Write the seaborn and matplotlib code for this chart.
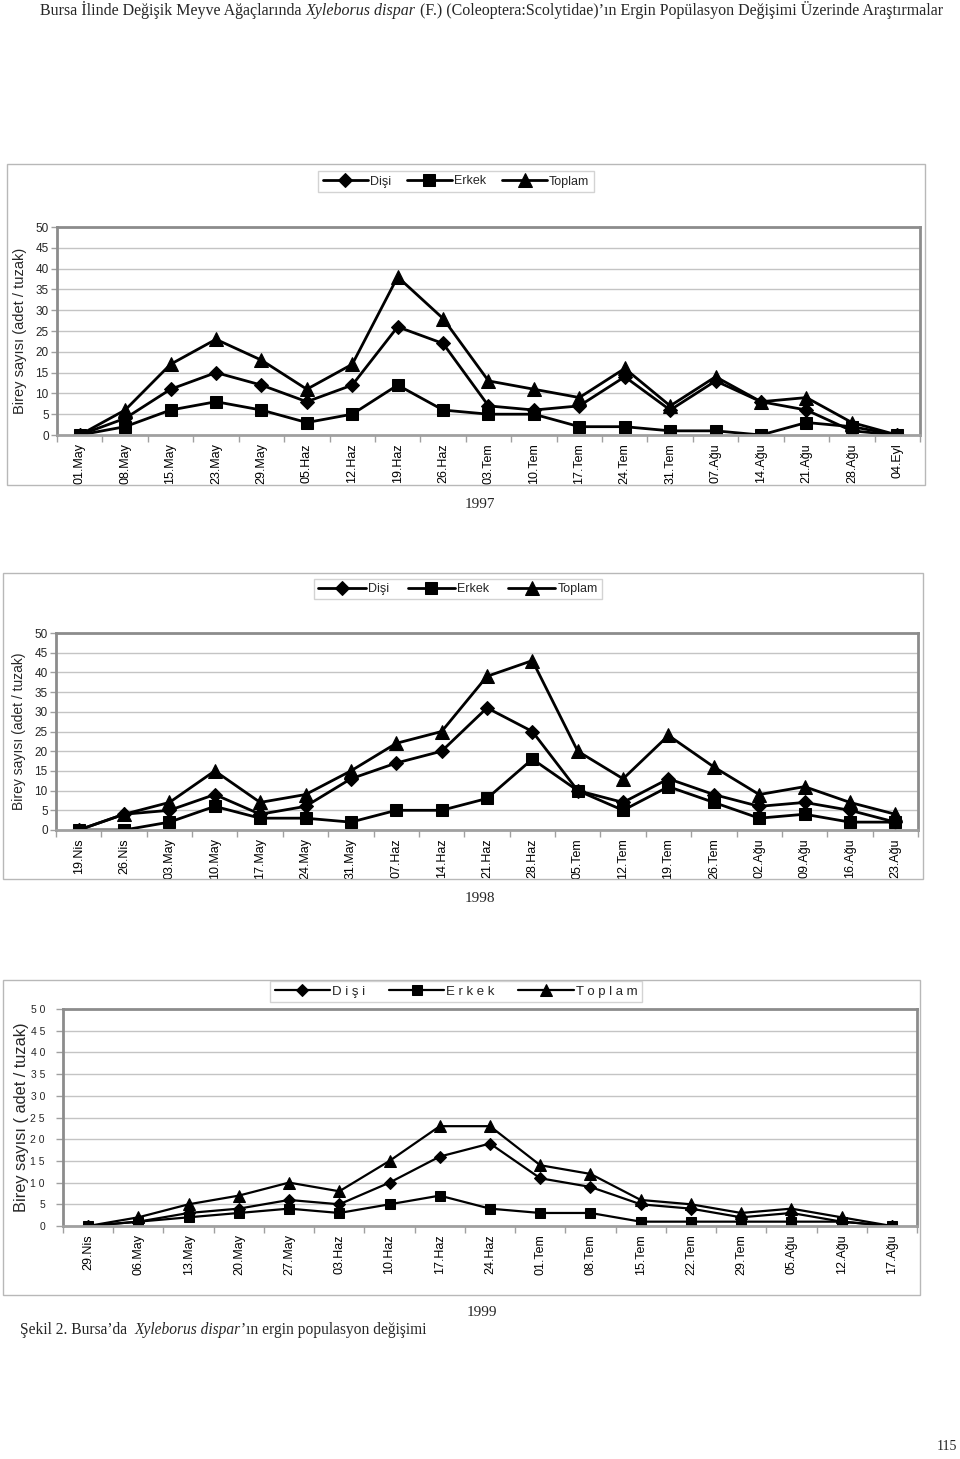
import matplotlib
matplotlib.use("Agg")
import matplotlib.pyplot as plt
from matplotlib.patches import Rectangle
import seaborn as sns
import pandas as pd

sns.set_theme(style="white")
plt.rcParams['font.family'] = ['Liberation Sans', 'DejaVu Sans']

W, H = 960, 1459

# 1997
dates_97 = ['01.May', '08.May', '15.May', '23.May', '29.May', '05.Haz', '12.Haz', '19.Haz', '26.Haz',
            '03.Tem', '10.Tem', '17.Tem', '24.Tem', '31.Tem', '07.Ağu', '14.Ağu', '21.Ağu', '28.Ağu', '04.Eyl']
disi_97 = [0, 4, 11, 15, 12, 8, 12, 26, 22, 7, 6, 7, 14, 6, 13, 8, 6, 1, 0]
erkek_97 = [0, 2, 6, 8, 6, 3, 5, 12, 6, 5, 5, 2, 2, 1, 1, 0, 3, 2, 0]
toplam_97 = [0, 6, 17, 23, 18, 11, 17, 38, 28, 13, 11, 9, 16, 7, 14, 8, 9, 3, 0]

# 1998
dates_98 = ['19.Nis', '26.Nis', '03.May', '10.May', '17.May', '24.May', '31.May', '07.Haz', '14.Haz',
            '21.Haz', '28.Haz', '05.Tem', '12.Tem', '19.Tem', '26.Tem', '02.Ağu', '09.Ağu', '16.Ağu', '23.Ağu']
disi_98 = [0, 4, 5, 9, 4, 6, 13, 17, 20, 31, 25, 10, 7, 13, 9, 6, 7, 5, 2]
erkek_98 = [0, 0, 2, 6, 3, 3, 2, 5, 5, 8, 18, 10, 5, 11, 7, 3, 4, 2, 2]
toplam_98 = [0, 4, 7, 15, 7, 9, 15, 22, 25, 39, 43, 20, 13, 24, 16, 9, 11, 7, 4]

# 1999
dates_99 = ['29.Nis', '06.May', '13.May', '20.May', '27.May', '03.Haz', '10.Haz', '17.Haz', '24.Haz',
            '01.Tem', '08.Tem', '15.Tem', '22.Tem', '29.Tem', '05.Ağu', '12.Ağu', '17.Ağu']
disi_99 = [0, 1, 3, 4, 6, 5, 10, 16, 19, 11, 9, 5, 4, 2, 3, 1, 0]
erkek_99 = [0, 1, 2, 3, 4, 3, 5, 7, 4, 3, 3, 1, 1, 1, 1, 1, 0]
toplam_99 = [0, 2, 5, 7, 10, 8, 15, 23, 23, 14, 12, 6, 5, 3, 4, 2, 0]

y_ticks = [0, 5, 10, 15, 20, 25, 30, 35, 40, 45, 50]

fig = plt.figure(figsize=(W / 100, H / 100), dpi=100)


def px_axes(l, t, r, b):
    return fig.add_axes([l / W, 1 - b / H, (r - l) / W, (b - t) / H])


def px_box(l, t, r, b):
    fig.patches.append(Rectangle((l / W, 1 - b / H), (r - l) / W, (b - t) / H, transform=fig.transFigure,
                                 fill=False, edgecolor='#b8b8b8', lw=1.0))


def draw_chart(dates, disi, erkek, toplam, plot_px, box_px, leg_xy, leg_opts, year, year_xy, labels,
               ylabel, ylab_x, ylab_size, ytick_labels, ytick_opts, lw, ms):
    px_box(*box_px)
    ax = px_axes(*plot_px)
    idx = list(range(len(dates)))
    df = pd.DataFrame({'idx': idx, 'Dişi': disi, 'Erkek': erkek, 'Toplam': toplam})
    for col, mk, s in [('Dişi', 'D', ms[0]), ('Erkek', 's', ms[1]), ('Toplam', '^', ms[2])]:
        sns.lineplot(data=df, x='idx', y=col, marker=mk, markersize=s, color='black', lw=lw,
                     markeredgecolor='black', label=col, legend=False, ax=ax)
    ax.set_xlim(-0.5, len(dates) - 0.5)
    ax.set_ylim(0, 50)
    ax.set_yticks(y_ticks, labels=ytick_labels)
    ax.set_xticks(idx, labels=dates, rotation=90)
    ax.set_xticks([i - 0.5 for i in range(len(dates) + 1)], minor=True)
    ax.tick_params(axis='x', which='major', length=0, labelsize=9, pad=6, colors='black')
    ax.tick_params(axis='x', which='minor', length=5, width=1, color='#a0a0a0', bottom=True)
    ax.tick_params(axis='y', length=ytick_opts[1], width=1, color='#a0a0a0', labelsize=ytick_opts[0],
                   pad=ytick_opts[2], left=True)
    ax.grid(axis='y', color='#c4c4c4', lw=1.0)
    ax.grid(axis='x', visible=False)
    for sp in ax.spines.values():
        sp.set_color('#8c8c8c')
        sp.set_linewidth(2.0)
    ax.spines['bottom'].set_color('#a0a0a0')
    ax.set_xlabel('')
    ax.set_ylabel('')
    cy = 1 - (plot_px[1] + plot_px[3]) / 2 / H
    fig.text(ylab_x / W, cy, ylabel, rotation=90, ha='center', va='center', fontsize=ylab_size)
    handles, _ = ax.get_legend_handles_labels()
    fig.legend(handles, labels, loc='center', bbox_to_anchor=(leg_xy[0] / W, 1 - leg_xy[1] / H),
               ncol=3, frameon=True, fancybox=False, edgecolor='#c8c8c8', fontsize=leg_opts[0],
               handlelength=leg_opts[1], handletextpad=0.15, columnspacing=leg_opts[2], borderpad=0.35)
    fig.text(year_xy[0] / W, 1 - year_xy[1] / H, year, ha='center', va='center', fontsize=11,
             family='Liberation Serif')
    return ax


draw_chart(dates_97, disi_97, erkek_97, toplam_97, (57, 227, 920, 435), (7, 164, 925, 485),
           (456, 181.5), (9, 3.6, 1.3), '1997', (480, 505), ['Dişi', 'Erkek', 'Toplam'],
           'Birey sayısı (adet / tuzak)', 20, 10.5, [str(v) for v in y_ticks], (8.5, 4, 2), 2.0, (7, 9, 10))
draw_chart(dates_98, disi_98, erkek_98, toplam_98, (56, 633, 918, 830), (3, 573, 923, 879),
           (458, 589), (9, 3.8, 1.5), '1998', (480, 898), ['Dişi', 'Erkek', 'Toplam'],
           'Birey sayısı (adet / tuzak)', 19, 10, [str(v) for v in y_ticks], (8.5, 4, 2), 2.0, (7, 9, 10))
draw_chart(dates_99, disi_99, erkek_99, toplam_99, (63, 1009, 917, 1226), (3, 980, 920, 1295),
           (456, 991.5), (9.5, 4.2, 1.8), '1999', (482, 1312), ['D i ş i', 'E r k e k', 'T o p l a m'],
           'Birey sayısı ( adet / tuzak)', 22, 11.8, [' '.join(str(v)) for v in y_ticks], (7.5, 5, 8),
           1.6, (6.5, 7.5, 8.5))


def text_runs(x_px, y_px, runs, size):
    # consecutive runs of text on one baseline (for the italic species name)
    renderer = fig.canvas.get_renderer()
    x = x_px
    for txt, style in runs:
        t = fig.text(x / W, 1 - y_px / H, txt, ha='left', va='baseline', fontsize=size,
                     family='Liberation Serif', style=style)
        x += t.get_window_extent(renderer).width


text_runs(40, 15, [('Bursa İlinde Değişik Meyve Ağaçlarında ', 'normal'), ('Xyleborus dispar', 'italic'),
                   (' (F.) (Coleoptera:Scolytidae)’ın Ergin Popülasyon Değişimi Üzerinde Araştırmalar', 'normal')],
          11.5)
text_runs(20, 1334, [('Şekil 2. Bursa’da  ', 'normal'), ('Xyleborus dispar', 'italic'),
                     ('’ın ergin populasyon değişimi', 'normal')], 11.2)
fig.text(947 / W, 1 - 1447 / H, '115', ha='center', va='center', fontsize=10, family='Liberation Serif')

fig.savefig('out.png', dpi=100)
